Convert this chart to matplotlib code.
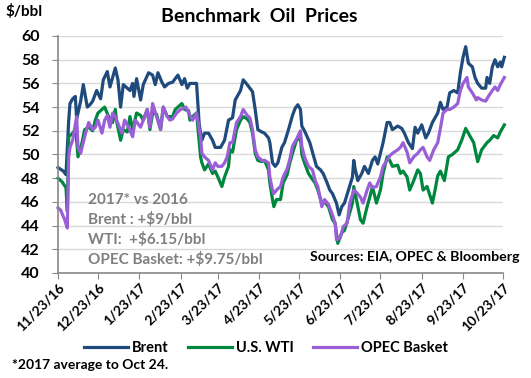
import matplotlib
matplotlib.use('Agg')
import matplotlib.pyplot as plt
import pandas as pd

plt.rcParams['font.family'] = ['Lato', 'DejaVu Sans']
plt.rcParams['font.weight'] = 'bold'

start = pd.Timestamp('2016-11-23')

# days since 11/23/16
brent_days = [0, 4, 6, 8, 9, 11, 13, 14, 17, 19, 22, 24, 26, 29, 32, 34, 37, 39, 41, 43,
              45, 47, 49, 52, 54, 56, 57, 59, 62, 64, 68, 71, 73, 75, 78, 80, 83, 86, 90, 93,
              95, 97, 99, 101, 104, 106, 108, 110, 113, 116, 118, 122, 125, 128, 131, 133, 137, 139, 142, 146,
              148, 150, 153, 155, 158, 159, 161, 163, 165, 168, 170, 173, 176, 178, 180, 182, 183, 185, 189, 191,
              194, 197, 199, 202, 204, 206, 209, 211, 213, 215, 218, 221, 222, 223, 225, 228, 230, 233, 236, 238,
              240, 244, 247, 249, 251, 255, 258, 260, 263, 266, 268, 270, 273, 276, 278, 281, 285, 287, 289, 292,
              294, 297, 300, 302, 304, 306, 308, 311, 313, 315, 318, 321, 322, 324, 326, 328, 330, 332, 333, 335]
brent_vals = [48.9, 48.6, 48.3, 52.8, 54.3, 54.7, 54.9, 53.0, 54.5, 55.9, 54.0, 54.2, 54.5, 55.4, 54.7, 56.3, 57.0, 55.7, 56.5, 57.3,
              56.3, 54.0, 55.9, 55.6, 55.4, 56.0, 54.9, 56.4, 54.6, 55.9, 56.9, 56.7, 55.9, 56.9, 56.1, 55.7, 56.0, 56.1, 56.7, 55.9,
              56.4, 55.6, 56.0, 56.0, 56.0, 52.5, 51.2, 51.8, 51.8, 51.2, 50.6, 50.6, 51.2, 52.9, 53.1, 54.6, 55.4, 56.3, 55.9, 55.3,
              53.8, 52.1, 51.9, 51.8, 51.4, 51.0, 49.3, 49.0, 49.3, 50.6, 51.0, 52.1, 53.3, 53.9, 54.2, 53.8, 52.4, 52.0, 51.0, 50.2,
              49.0, 48.7, 48.4, 47.6, 47.0, 46.7, 45.9, 44.9, 45.6, 45.9, 47.0, 48.1, 49.5, 48.8, 47.8, 48.4, 49.0, 48.4, 49.5, 49.8,
              49.2, 51.0, 52.7, 52.7, 52.1, 52.4, 52.2, 51.8, 51.0, 50.5, 52.3, 51.8, 52.5, 51.4, 51.8, 52.7, 53.5, 54.4, 53.8, 54.0,
              55.2, 55.4, 55.2, 56.9, 58.2, 59.1, 57.7, 57.4, 56.5, 56.0, 55.6, 55.6, 56.5, 56.0, 57.4, 58.0, 57.4, 57.8, 57.4, 58.2]

wti_days = [0, 3, 6, 7, 8, 11, 13, 14, 15, 18, 20, 23, 26, 28, 30, 33, 35, 38, 41, 43,
            44, 47, 49, 52, 54, 56, 59, 62, 64, 67, 69, 71, 74, 77, 79, 82, 86, 88, 90, 93,
            95, 98, 99, 101, 104, 107, 108, 110, 113, 116, 118, 120, 123, 125, 128, 129, 131, 134, 137, 139,
            142, 144, 146, 148, 150, 153, 155, 158, 159, 161, 162, 164, 167, 169, 172, 174, 176, 179, 182, 183,
            185, 188, 191, 193, 195, 198, 200, 203, 206, 208, 210, 213, 215, 218, 221, 222, 224, 227, 229, 232,
            234, 236, 239, 242, 244, 247, 249, 251, 255, 257, 259, 262, 264, 267, 270, 272, 274, 277, 281, 283,
            285, 287, 290, 293, 296, 300, 303, 306, 309, 312, 315, 318, 322, 324, 327, 330, 332, 335]
wti_vals = [48.0, 47.7, 47.2, 45.2, 51.5, 51.8, 52.1, 51.2, 49.8, 51.0, 52.1, 52.3, 52.0, 52.9, 53.5, 53.8, 54.0, 53.2, 52.7, 53.8,
            52.8, 51.2, 52.1, 51.9, 53.2, 52.1, 53.5, 53.3, 52.9, 53.8, 52.1, 53.5, 53.4, 52.1, 54.0, 53.2, 53.2, 53.8, 54.0, 54.3,
            53.8, 53.7, 52.9, 53.2, 53.5, 49.8, 49.3, 48.7, 49.2, 48.4, 48.6, 48.1, 47.3, 48.1, 49.0, 50.4, 50.2, 52.1, 52.9, 53.2,
            53.0, 52.7, 51.8, 50.1, 49.5, 49.4, 49.5, 48.7, 47.6, 46.2, 45.6, 46.2, 46.2, 47.6, 48.3, 49.3, 50.1, 51.2, 51.4, 50.0,
            49.3, 48.4, 47.9, 47.6, 47.0, 45.9, 46.0, 45.6, 44.5, 44.2, 42.5, 43.4, 43.6, 44.7, 45.9, 47.3, 46.2, 44.5, 44.2, 45.6,
            46.4, 47.3, 45.9, 47.0, 48.4, 49.8, 49.5, 49.0, 49.1, 48.4, 48.6, 48.1, 47.0, 47.8, 48.7, 48.4, 47.0, 47.3, 45.9, 47.0,
            48.2, 48.6, 47.8, 49.8, 50.0, 50.4, 51.2, 52.2, 51.6, 51.0, 49.4, 50.4, 51.0, 51.2, 51.6, 51.4, 51.9, 52.5]

opec_days = [0, 2, 5, 7, 8, 9, 11, 14, 15, 17, 20, 23, 26, 28, 30, 33, 35, 37, 39, 41,
             43, 44, 48, 50, 53, 56, 58, 62, 64, 67, 69, 71, 74, 77, 79, 82, 84, 86, 89, 92,
             94, 96, 99, 101, 104, 107, 108, 110, 113, 116, 118, 120, 123, 125, 127, 129, 131, 134, 137, 139,
             142, 144, 146, 148, 150, 153, 155, 158, 159, 161, 162, 164, 167, 169, 172, 174, 176, 179, 182, 183,
             185, 188, 191, 193, 195, 198, 200, 203, 206, 208, 209, 212, 214, 217, 219, 222, 224, 227, 229, 232,
             234, 236, 239, 242, 244, 247, 249, 251, 255, 257, 259, 262, 264, 267, 270, 272, 274, 277, 279, 282,
             285, 287, 289, 292, 294, 297, 300, 302, 304, 307, 308, 311, 314, 315, 318, 321, 323, 326, 328, 330,
             332, 333, 335]
opec_vals = [45.5, 45.3, 44.5, 43.8, 49.8, 50.6, 51.2, 53.2, 50.6, 50.1, 51.5, 52.7, 52.1, 52.3, 52.9, 51.8, 52.9, 53.3, 52.3, 53.5,
             53.2, 52.9, 51.8, 52.9, 52.3, 51.5, 52.9, 52.3, 52.9, 53.8, 52.3, 54.3, 53.2, 52.1, 54.0, 53.2, 52.9, 53.0, 53.5, 53.8,
             53.9, 54.0, 53.3, 52.9, 53.5, 51.5, 50.1, 49.8, 49.5, 48.7, 49.3, 49.0, 49.0, 49.3, 49.8, 51.0, 51.0, 52.7, 53.2, 53.8,
             53.3, 53.1, 52.1, 50.4, 49.8, 49.5, 49.5, 49.3, 48.1, 47.0, 46.7, 47.0, 47.3, 48.1, 48.8, 49.6, 50.7, 51.3, 52.0, 50.7,
             49.8, 49.0, 48.7, 47.8, 47.3, 45.6, 46.2, 45.8, 44.9, 44.2, 42.8, 43.0, 43.9, 44.2, 45.9, 47.0, 46.8, 46.4, 45.9, 47.0,
             47.6, 47.2, 47.3, 48.1, 49.0, 49.5, 49.9, 50.1, 50.4, 50.6, 51.0, 50.2, 49.3, 49.8, 50.1, 50.4, 50.6, 49.8, 49.5, 50.4,
             51.0, 52.2, 53.5, 53.8, 53.8, 54.0, 54.3, 55.4, 56.0, 56.5, 55.7, 55.2, 54.6, 54.8, 54.6, 54.5, 54.9, 55.4, 55.7, 55.4,
             55.9, 56.1, 56.5]

tick_dates = ['2016-11-23', '2016-12-23', '2017-01-23', '2017-02-23', '2017-03-23', '2017-04-23',
              '2017-05-23', '2017-06-23', '2017-07-23', '2017-08-23', '2017-09-23', '2017-10-23']
tick_labels = ['11/23/16', '12/23/16', '1/23/17', '2/23/17', '3/23/17', '4/23/17',
               '5/23/17', '6/23/17', '7/23/17', '8/23/17', '9/23/17', '10/23/17']

box_lines = ['2017* vs 2016', 'Brent : +$9/bbl', 'WTI:  +$6.15/bbl', 'OPEC Basket: +$9.75/bbl']


def to_dates(days):
    return start + pd.to_timedelta(days, unit='D')


fig = plt.figure(figsize=(5.31, 3.78), dpi=100)
ax = fig.add_axes([58 / 531, 1 - 273 / 378, 445 / 531, 237 / 378])

ax.plot(to_dates(brent_days), brent_vals, color='#1f4a7c', lw=2.3, label='Brent', clip_on=False)
ax.plot(to_dates(wti_days), wti_vals, color='#00873e', lw=2.3, label='U.S. WTI', clip_on=False)
ax.plot(to_dates(opec_days), opec_vals, color='#9a5fd6', lw=2.3, label='OPEC Basket', clip_on=False)

ax.set_ylim(40, 60)
ax.set_yticks(range(40, 61, 2))
ax.set_xlim(start, pd.Timestamp('2017-10-23'))
ax.set_xticks(pd.to_datetime(tick_dates))
ax.set_xticklabels(tick_labels, rotation=45, ha='right', rotation_mode='anchor')
ax.grid(axis='y', color='#d9d9d9', lw=1)
ax.set_axisbelow(True)
for s in ['top', 'right']:
    ax.spines[s].set_visible(False)
for s in ['left', 'bottom']:
    ax.spines[s].set_color('#888888')
    ax.spines[s].set_linewidth(1.2)
ax.tick_params(axis='y', length=4, color='#888888', pad=9, labelsize=11.5)
ax.tick_params(axis='x', length=4, color='#888888', pad=2, labelsize=10)

fig.text(259 / 531, 1 - 17 / 378, 'Benchmark  Oil  Prices', ha='center', va='center', fontsize=14)
fig.text(5 / 531, 1 - 12 / 378, '$/bbl', ha='left', va='center', fontsize=11)

for i, line in enumerate(box_lines):
    fig.text(88 / 531, 1 - (200 + 20 * i) / 378, line, ha='left', va='center', fontsize=11, color='#7f7f7f')

fig.text(519 / 531, 1 - 257 / 378, 'Sources: EIA, OPEC & Bloomberg', ha='right', va='center', fontsize=10.2)

fig.legend(loc='center', bbox_to_anchor=(266 / 531, 1 - 348 / 378), ncol=3, frameon=False,
           handlelength=3.0, handletextpad=0.3, columnspacing=1.3, fontsize=10.5)

fig.text(12 / 531, 1 - 365 / 378, '*2017 average to Oct 24.', ha='left', va='center', fontsize=10)

fig.savefig('out.png', dpi=100)
